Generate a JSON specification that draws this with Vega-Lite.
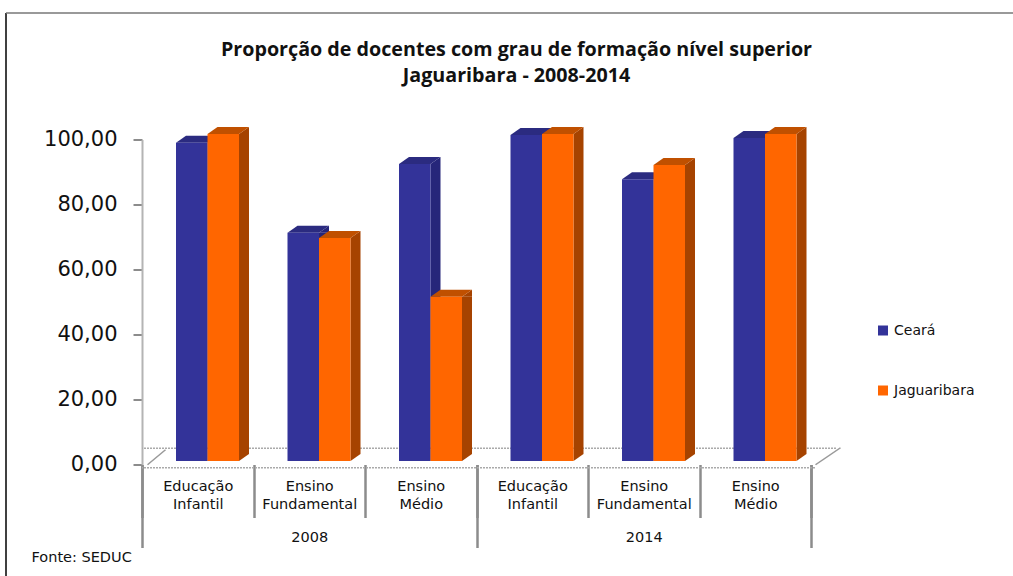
{"$schema":"https://vega.github.io/schema/vega-lite/v6.json","width":669,"height":325,"autosize":"none","padding":{"left":142,"top":139.5,"right":202,"bottom":111.5},"background":"white","config":{"view":{"stroke":null},"font":"DejaVu Sans"},"title":{"text":["Proporção de docentes com grau de formação nível superior","Jaguaribara - 2008-2014"],"font":"Open Sans","fontSize":19.7,"fontWeight":"bold","color":"#111111","lineHeight":26,"anchor":"middle","dx":40,"offset":-73},"data":{"values":[{"Categoria":"2008|Educação|Infantil","Ano":"2008","Serie":"Ceará","Valor":97.3},{"Categoria":"2008|Educação|Infantil","Ano":"2008","Serie":"Jaguaribara","Valor":100},{"Categoria":"2008|Ensino|Fundamental","Ano":"2008","Serie":"Ceará","Valor":69.8},{"Categoria":"2008|Ensino|Fundamental","Ano":"2008","Serie":"Jaguaribara","Valor":68.2},{"Categoria":"2008|Ensino|Médio","Ano":"2008","Serie":"Ceará","Valor":90.8},{"Categoria":"2008|Ensino|Médio","Ano":"2008","Serie":"Jaguaribara","Valor":50.2},{"Categoria":"2014|Educação|Infantil","Ano":"2014","Serie":"Ceará","Valor":99.7},{"Categoria":"2014|Educação|Infantil","Ano":"2014","Serie":"Jaguaribara","Valor":100},{"Categoria":"2014|Ensino|Fundamental","Ano":"2014","Serie":"Ceará","Valor":86.2},{"Categoria":"2014|Ensino|Fundamental","Ano":"2014","Serie":"Jaguaribara","Valor":90.5},{"Categoria":"2014|Ensino|Médio","Ano":"2014","Serie":"Ceará","Valor":98.8},{"Categoria":"2014|Ensino|Médio","Ano":"2014","Serie":"Jaguaribara","Valor":100}]},"resolve":{"scale":{"x":"independent","y":"independent"},"axis":{"x":"independent","y":"independent"}},"layer":[{"data":{"values":[{"v":5}]},"layer":[{"mark":{"type":"rule","color":"#aaaaaa","strokeWidth":1.5,"strokeDash":[2,1],"xOffset":25},"encoding":{"y":{"datum":5,"type":"quantitative","scale":{"domain":[0,100],"nice":false},"axis":{"values":[0,20,40,60,80,100],"labelExpr":"replace(format(datum.value,'.2f'),'.',',')","title":null,"grid":false,"domainColor":"#b4b4b4","domainWidth":2,"tickColor":"#8c8c8c","tickWidth":2,"tickSize":9,"labelFontSize":21,"labelColor":"#111111","labelPadding":16}}}},{"mark":{"type":"rule","color":"#aaaaaa","strokeWidth":1.5,"strokeDash":[2,1],"xOffset":4},"encoding":{"y":{"datum":-1,"type":"quantitative"}}},{"mark":{"type":"rule","color":"#000000","strokeWidth":1.5},"encoding":{"x":{"value":-136},"y":{"value":-126.5},"y2":{"value":440}}},{"mark":{"type":"rule","color":"#777777","strokeWidth":1.5},"encoding":{"x":{"value":-136},"x2":{"value":880},"y":{"value":-126.5}}}]},{"layer":[{"transform":[{"filter":"datum.Categoria==='2008|Educação|Infantil' && datum.Serie==='Ceará'"}],"mark":{"type":"point","filled":true,"opacity":1,"color":"#9a9a9a","strokeWidth":0,"size":4,"shape":"M5,0L23,-15L24,-14L6,1Z"},"encoding":{"xOffset":{"value":0},"y":{"datum":-1,"type":"quantitative"}}},{"transform":[{"filter":"datum.Categoria==='2014|Ensino|Médio' && datum.Serie==='Ceará'"}],"mark":{"type":"point","filled":true,"opacity":1,"color":"#9a9a9a","strokeWidth":0,"size":4,"shape":"M115.5,0L140.5,-17L141.5,-16L116.5,1Z"},"encoding":{"xOffset":{"value":0},"y":{"datum":-1,"type":"quantitative"}}},{"transform":[{"filter":"datum.Serie==='Ceará'"}],"layer":[{"mark":{"type":"bar","color":"#26267a","width":10,"y2Offset":-7},"encoding":{"xOffset":{"value":70.5},"y2":{"datum":0}}},{"mark":{"type":"point","filled":true,"strokeWidth":0,"opacity":1,"color":"#26267a","size":4,"shape":"M15.75,0L25.75,-7L25.75,0Z"}},{"mark":{"type":"point","filled":true,"strokeWidth":0,"opacity":1,"color":"#2b2b80","size":4,"shape":"M-15.75,0L-5.75,-7L25.75,-7L15.75,0Z"}},{"mark":{"type":"point","filled":true,"strokeWidth":0,"opacity":1,"color":"#26267a","size":4,"shape":"M15.75,0L25.75,-7L15.75,-7Z"},"encoding":{"y":{"datum":0,"type":"quantitative"}}},{"mark":{"type":"bar"},"encoding":{"y2":{"datum":0},"color":{"field":"Serie","type":"nominal","scale":{"domain":["Ceará","Jaguaribara"],"range":["#333399","#ff6600"]},"legend":{"title":null,"orient":"none","legendX":734,"legendY":184,"symbolType":"square","symbolSize":100,"symbolStrokeWidth":0,"labelFontSize":14,"labelColor":"#111111","rowPadding":46,"labelOffset":4}}}}]},{"transform":[{"filter":"datum.Serie==='Jaguaribara'"}],"layer":[{"mark":{"type":"bar","color":"#a64300","width":10,"y2Offset":-7},"encoding":{"xOffset":{"value":102},"y2":{"datum":0}}},{"mark":{"type":"point","filled":true,"strokeWidth":0,"opacity":1,"color":"#a64300","size":4,"shape":"M15.75,0L25.75,-7L25.75,0Z"}},{"mark":{"type":"point","filled":true,"strokeWidth":0,"opacity":1,"color":"#c05000","size":4,"shape":"M-15.75,0L-5.75,-7L25.75,-7L15.75,0Z"}},{"mark":{"type":"point","filled":true,"strokeWidth":0,"opacity":1,"color":"#a64300","size":4,"shape":"M15.75,0L25.75,-7L15.75,-7Z"},"encoding":{"y":{"datum":0,"type":"quantitative"}}},{"mark":{"type":"bar"},"encoding":{"y2":{"datum":0},"color":{"field":"Serie","type":"nominal"}}}]}],"encoding":{"x":{"field":"Categoria","type":"nominal","sort":null,"scale":{"domain":["2008|Educação|Infantil","2008|Ensino|Fundamental","2008|Ensino|Médio","2014|Educação|Infantil","2014|Ensino|Fundamental","2014|Ensino|Médio"],"paddingInner":0,"paddingOuter":0},"axis":{"orient":"bottom","title":null,"labelExpr":"slice(split(datum.label,'|'),1)","labelAngle":0,"labelFontSize":14.5,"labelColor":"#111111","labelLineHeight":18,"labelPadding":-38,"labelLimit":0,"tickBand":"extent","tickSize":53,"tickColor":"#8c8c8c","tickWidth":2.5,"domain":false}},"xOffset":{"field":"Serie","type":"nominal","scale":{"domain":["Ceará","Jaguaribara"],"range":[34,97],"paddingInner":0,"paddingOuter":0}},"y":{"field":"Valor","type":"quantitative","stack":null,"scale":{"domain":[0,100],"nice":false,"range":[321.5,-5.5]},"axis":null}}},{"mark":{"type":"bar","opacity":0},"encoding":{"x":{"field":"Ano","type":"nominal","scale":{"paddingInner":0,"paddingOuter":0},"axis":{"orient":"bottom","title":"Fonte: SEDUC","titleX":-111,"titleY":86,"titleAnchor":"start","titleAlign":"left","titleFontSize":14.5,"titleFontWeight":"normal","titleColor":"#111111","labelAngle":0,"labelFontSize":14.5,"labelColor":"#111111","labelPadding":-17,"tickBand":"extent","tickSize":83,"tickColor":"#8c8c8c","tickWidth":2.5,"domain":false}}}}]}
